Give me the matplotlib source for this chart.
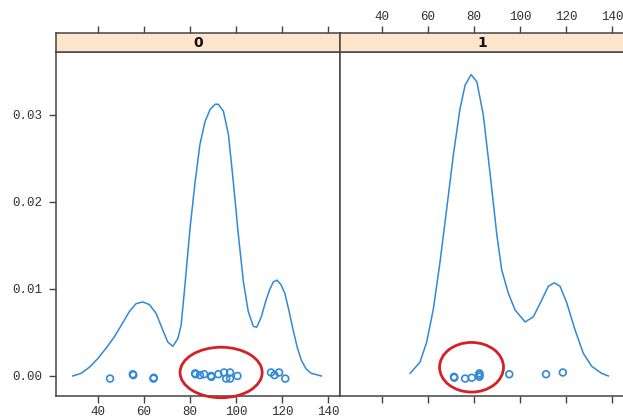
import matplotlib.pyplot as plt
from matplotlib.patches import Ellipse

# density curves (group 0 and group 1)
den0_x = [29.0, 32.6, 36.2, 39.9, 43.5, 47.1, 50.7, 53.6, 56.5, 59.4, 62.3, 65.2,
          68.1, 70.3, 72.5, 74.7, 76.1, 77.8, 80.0, 82.2, 84.3, 86.5, 88.7, 90.9,
          92.3, 94.5, 96.7, 98.8, 101.0, 103.2, 105.3, 107.5, 109.0, 111.0, 112.8,
          114.6, 116.2, 117.8, 119.5, 121.2, 123.0, 124.8, 126.6, 128.4, 130.5,
          132.7, 137.1]
den0_y = [0.0000, 0.0003, 0.0010, 0.0020, 0.0032, 0.0045, 0.0061, 0.0074, 0.0083,
          0.0085, 0.0082, 0.0072, 0.0053, 0.0039, 0.0034, 0.0043, 0.0058, 0.0105,
          0.0170, 0.0223, 0.0266, 0.0292, 0.0306, 0.0312, 0.0312, 0.0304, 0.0277,
          0.0223, 0.0162, 0.0108, 0.0074, 0.0057, 0.0056, 0.0068, 0.0085, 0.0099,
          0.0108, 0.0110, 0.0105, 0.0095, 0.0075, 0.0053, 0.0033, 0.0018, 0.0008,
          0.0003, 0.0000]

den1_x = [52.2, 56.5, 59.4, 62.3, 65.2, 68.1, 71.0, 73.9, 76.1, 78.7, 81.2, 84.0,
          86.9, 89.9, 92.0, 94.9, 97.8, 102.2, 105.8, 109.4, 112.3, 114.9, 117.4,
          120.3, 123.9, 127.5, 131.2, 135.5, 138.4]
den1_y = [0.0003, 0.0016, 0.0039, 0.0077, 0.0131, 0.0192, 0.0254, 0.0307, 0.0334,
          0.0346, 0.0338, 0.0300, 0.0234, 0.0162, 0.0122, 0.0095, 0.0076, 0.0062,
          0.0068, 0.0087, 0.0103, 0.0107, 0.0103, 0.0084, 0.0053, 0.0026, 0.0011,
          0.0003, 0.0000]

# raw values shown as jittered points along the bottom
pts0_x = [45.2, 55.1, 55.3, 64.1, 64.2, 82.2, 82.4, 84.3, 86.1, 89.1, 89.3, 92.3,
          94.8, 95.7, 97.4, 97.4, 100.6, 115.2, 116.7, 118.7, 121.4]
pts0_y = [-0.0003, 0.0002, 0.0001, -0.0003, -0.0002, 0.0003, 0.0002, 0.0001, 0.0002,
          0.0000, -0.0001, 0.0002, 0.0004, -0.0003, 0.0004, -0.0003, 0.0000, 0.0004,
          0.0001, 0.0004, -0.0003]
pts1_x = [71.3, 71.4, 76.1, 79.0, 82.3, 82.3, 82.4, 95.3, 111.3, 118.6]
pts1_y = [-0.0001, -0.0002, -0.0003, -0.0002, 0.0003, -0.0001, 0.0001, 0.0002,
          0.0002, 0.0004]

groups = ['0', '1']
xticks = [40, 60, 80, 100, 120, 140]
yticks = [0.00, 0.01, 0.02, 0.03]
ytick_labels = ['0.00', '0.01', '0.02', '0.03']

# red circled regions (center x, center y, width, height)
rings = [(93.5, 0.0004, 35.7, 0.0058), (78.9, 0.0010, 27.8, 0.0057)]

blue = '#3189d6'
frame = '#444444'
mono = 'Liberation Mono'

W, H = 623, 419
fig = plt.figure(figsize=(W / 100, H / 100), dpi=100)

xlim = (21.7, 145.2)
ylim = (-0.0023, 0.0372)

panel_left = [56, 340]
panel_w = 284
series = [(den0_x, den0_y, pts0_x, pts0_y), (den1_x, den1_y, pts1_x, pts1_y)]

for i in range(2):
    x0 = panel_left[i]
    ax = fig.add_axes([x0 / W, (H - 396) / H, panel_w / W, 344 / H])
    dx, dy, px, py = series[i]
    ax.plot(dx, dy, color=blue, lw=1.1, solid_joinstyle='round')
    ax.scatter(px, py, s=24, facecolors='none', edgecolors=blue, linewidths=1.2, zorder=3)
    cx, cy, ew, eh = rings[i]
    ax.add_patch(Ellipse((cx, cy), ew, eh, fill=False, edgecolor='#d42027', lw=2,
                         clip_on=False, zorder=4))
    ax.set_xlim(*xlim)
    ax.set_ylim(*ylim)
    ax.set_xticks(xticks)
    ax.tick_params(axis='both', direction='out', length=5, width=1, color=frame,
                   labelsize=9, labelcolor='#333333', pad=2)
    ax.tick_params(axis='y', pad=5)
    for s in ax.spines.values():
        s.set_color(frame)
        s.set_linewidth(1.1)
    if i == 0:
        ax.set_yticks(yticks)
        ax.set_yticklabels(ytick_labels, fontfamily=mono)
        ax.set_xticklabels([str(t) for t in xticks], fontfamily=mono)
    else:
        ax.set_yticks([])
        ax.set_xticklabels([])

    # strip on top
    sx = fig.add_axes([x0 / W, (H - 52) / H, panel_w / W, 19 / H])
    sx.set_facecolor('#ffe5cc')
    sx.set_xlim(*xlim)
    sx.set_ylim(0, 1)
    sx.set_yticks([])
    sx.set_xticks(xticks)
    sx.xaxis.tick_top()
    sx.tick_params(axis='x', direction='out', length=5, width=1, color=frame,
                   labelsize=9, labelcolor='#333333', pad=2)
    if i == 1:
        sx.set_xticklabels([str(t) for t in xticks], fontfamily=mono)
    else:
        sx.set_xticklabels([])
    for s in sx.spines.values():
        s.set_color(frame)
        s.set_linewidth(1.1)
    sx.text(0.5, 0.45, groups[i], transform=sx.transAxes, ha='center', va='center',
            fontsize=10, fontweight='bold', color='#111111')

fig.savefig('out.png', dpi=100)
